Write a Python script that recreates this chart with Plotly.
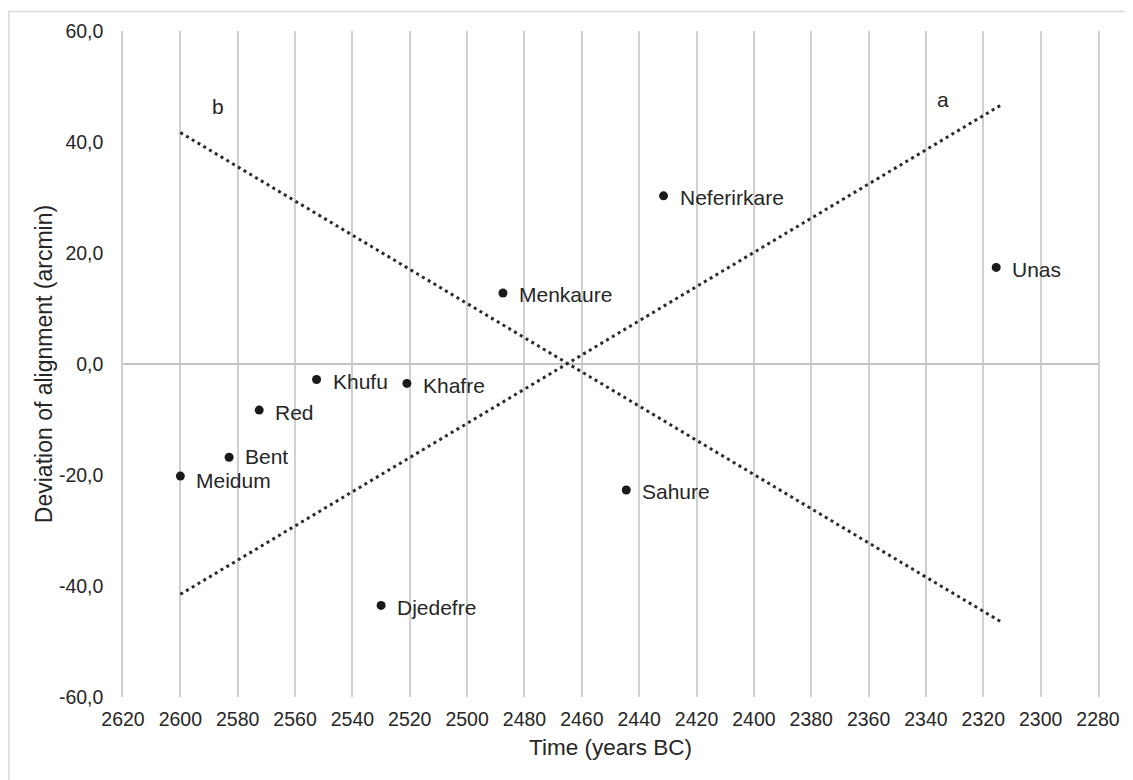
import plotly.graph_objects as go

# Pyramids: year (BC) and deviation of alignment (arcmin)
names = ["Meidum", "Bent", "Red", "Khufu", "Djedefre", "Khafre", "Menkaure",
         "Sahure", "Neferirkare", "Unas"]
years = [2600, 2583, 2572.5, 2552.5, 2530, 2521, 2487.5, 2444.5, 2431.5, 2315.5]
deviation = [-20.2, -16.8, -8.3, -2.8, -43.5, -3.5, 12.8, -22.7, 30.3, 17.4]
label_dy = [-4, 1, -2, -2, -2, -2, -2, -2, -2, -2]

# Trend lines a and b
line_x = [2600, 2314]
line_a_y = [-41.5, 46.6]
line_b_y = [41.7, -46.4]
line_labels = ["a", "b"]
line_label_x = [2334, 2587]
line_label_y = [47.7, 46.4]

# Axis ticks
y_tickvals = [-60, -40, -20, 0, 20, 40, 60]
y_ticktext = ["-60,0", "-40,0", "-20,0", "0,0", "20,0", "40,0", "60,0"]
x_tickvals = list(range(2620, 2279, -20))

FONT = "Liberation Sans, Arial, sans-serif"
TXT = "#262626"

fig = go.Figure()

fig.add_trace(go.Scatter(x=line_x, y=line_a_y, mode="lines",
                         line=dict(color="#2b2b2b", width=3, dash="3px,3.7px"),
                         hoverinfo="skip", showlegend=False))
fig.add_trace(go.Scatter(x=line_x, y=line_b_y, mode="lines",
                         line=dict(color="#2b2b2b", width=3, dash="3px,3.7px"),
                         hoverinfo="skip", showlegend=False))
fig.add_trace(go.Scatter(x=years, y=deviation, mode="markers",
                         marker=dict(color="#1a1a1a", size=9),
                         showlegend=False))

for n, xv, yv, dy in zip(names, years, deviation, label_dy):
    fig.add_annotation(x=xv, y=yv, text=n, showarrow=False, xanchor="left",
                       yanchor="middle", xshift=14, yshift=dy,
                       font=dict(family=FONT, size=21, color=TXT))

for t, xv, yv in zip(line_labels, line_label_x, line_label_y):
    fig.add_annotation(x=xv, y=yv, text=t, showarrow=False, xanchor="center",
                       yanchor="middle", font=dict(family=FONT, size=21, color=TXT))

# outer chart border (plot area spans page x 122.7..1098.3, y 28..697)
fig.add_shape(type="rect", xref="paper", yref="paper",
              x0=(8.5 - 122.7) / 975.6, x1=(1126 - 122.7) / 975.6,
              y0=(697 - 800) / 669, y1=(697 - 8.5) / 669,
              line=dict(color="#d9d9d9", width=1.5), layer="below")

fig.update_xaxes(range=[2620, 2280], tickvals=x_tickvals,
                 showgrid=True, gridcolor="#d0d0d0", gridwidth=1.5,
                 zeroline=False, showline=False,
                 ticks="outside", ticklen=5, tickcolor="rgba(0,0,0,0)",
                 tickfont=dict(family=FONT, size=19.5, color=TXT),
                 title=dict(text="Time (years BC)", standoff=9,
                            font=dict(family=FONT, size=22.5, color=TXT)))
fig.update_yaxes(range=[-60, 60], tickvals=y_tickvals, ticktext=y_ticktext,
                 showgrid=False, zeroline=True, zerolinecolor="#c4c4c4",
                 zerolinewidth=1.5,
                 showline=True, mirror=True, linecolor="#d0d0d0", linewidth=1.5,
                 ticks="outside", ticklen=14, tickcolor="rgba(0,0,0,0)",
                 tickfont=dict(family=FONT, size=19.5, color=TXT),
                 title=dict(text="Deviation of alignment (arcmin)", standoff=0,
                            font=dict(family=FONT, size=23, color=TXT)))

# page has an 8px body margin, so the figure is offset by 8px
fig.update_layout(width=1133, height=780,
                  margin=dict(l=114.7, r=42.7, t=20, b=91),
                  plot_bgcolor="white", paper_bgcolor="white")

fig.write_html("out.html")
